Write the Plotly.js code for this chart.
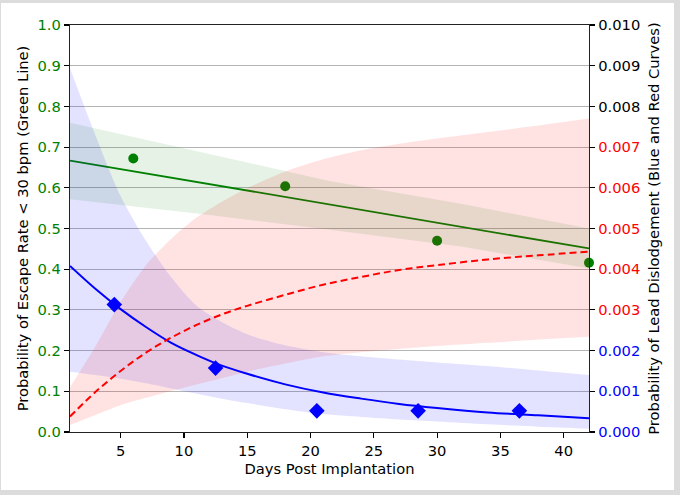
<!DOCTYPE html>
<html>
<head>
<meta charset="utf-8">
<script src="https://cdn.plot.ly/plotly-3.0.1.min.js"></script>
<style>
  html, body { margin: 0; padding: 0; background: #dcdcdc; width: 680px; height: 495px; overflow: hidden; }
  #chart { position: absolute; left: 1px; top: 3px; width: 673px; height: 487px; background: #fff; }
</style>
</head>
<body>
<div id="chart"></div>
<script>
// observed points
const escapeDays = [6, 18, 30, 42];
const escapeRate = [0.672, 0.604, 0.470, 0.416];
const dislodgeDays = [4.5, 12.5, 20.5, 28.5, 36.5];
const dislodgeRate = [0.00313, 0.00157, 0.00052, 0.00052, 0.00052];

// green fit (left axis)
const greenDays = [1, 11, 21.5, 32, 42];
const greenFit = [0.667, 0.614, 0.559, 0.504, 0.451];
const greenUpper = [0.760, 0.690, 0.617, 0.560, 0.500];
const greenLower = [0.572, 0.537, 0.497, 0.455, 0.402];

// blue / red fits (right axis)
const curveDays = [1, 3, 5, 7, 9, 11, 13, 15, 18, 21, 24, 27, 30, 34, 38, 42];
const blueFit = [0.00408, 0.00352, 0.00302, 0.00258, 0.00219, 0.00189, 0.00163, 0.00143,
  0.00117, 0.00097, 0.00082, 0.00069, 0.00059, 0.00048, 0.00041, 0.00034];
const blueUpper = [0.00894, 0.0073, 0.0058, 0.0047, 0.0038, 0.0031, 0.0027, 0.0024,
  0.00213, 0.00196, 0.00186, 0.00178, 0.00171, 0.00162, 0.00151, 0.0014];
const blueLower = [0.00148, 0.00140, 0.00131, 0.00120, 0.00107, 0.00094, 0.00082, 0.00071,
  0.00056, 0.00044, 0.00037, 0.00031, 0.00026, 0.00019, 0.00013, 0.00008];
const redFit = [0.00038, 0.00098, 0.00150, 0.00195, 0.00232, 0.00263, 0.00289, 0.00310,
  0.00337, 0.00362, 0.00381, 0.00398, 0.00410, 0.00424, 0.00434, 0.00443];
const redUpper = [0.0011, 0.0021, 0.0032, 0.0041, 0.00475, 0.00527, 0.00566, 0.00599,
  0.00640, 0.00670, 0.00692, 0.00708, 0.00721, 0.00737, 0.00753, 0.0077];
const redLower = [0.00017, 0.00042, 0.00066, 0.00084, 0.00101, 0.00117, 0.00132, 0.00148,
  0.00168, 0.00186, 0.00196, 0.00204, 0.00211, 0.00219, 0.00227, 0.00234];

// axis ticks
const xTicks = [5, 10, 15, 20, 25, 30, 35, 40];
const leftTicks = [0, 0.1, 0.2, 0.3, 0.4, 0.5, 0.6, 0.7, 0.8, 0.9, 1.0];
const rightTicks = [0, 0.001, 0.002, 0.003, 0.004, 0.005, 0.006, 0.007, 0.008, 0.009, 0.010];
const rightTickColors = ["blue", "blue", "blue", "red", "red", "red", "red", "red", "black", "black", "black"];

const FONT = "DejaVu Sans, Verdana, sans-serif";
const FS = 14.7;

// lower edge (invisible) followed by upper edge filled down to it
function band(xs, upper, lower, color, yaxis, shape) {
  const edge = { width: 0, shape, smoothing: 0.8 };
  return [
    { type: "scatter", mode: "lines", x: xs, y: lower, yaxis, line: edge, hoverinfo: "skip" },
    {
      type: "scatter", mode: "lines", x: xs, y: upper, yaxis, line: edge,
      fill: "tonexty", fillcolor: color, hoverinfo: "skip",
    },
  ];
}

const data = [
  ...band(greenDays, greenUpper, greenLower, "rgba(0,128,0,0.10)", "y", "linear"),
  {
    type: "scatter", mode: "lines", x: greenDays, y: greenFit, yaxis: "y",
    line: { color: "green", width: 1.8 },
  },
  {
    type: "scatter", mode: "markers", x: escapeDays, y: escapeRate, yaxis: "y",
    marker: { color: "green", size: 10, symbol: "circle" },
    cliponaxis: false,
  },
  ...band(curveDays, blueUpper, blueLower, "rgba(0,0,255,0.11)", "y2", "spline"),
  ...band(curveDays, redUpper, redLower, "rgba(255,0,0,0.11)", "y2", "spline"),
  {
    type: "scatter", mode: "lines", x: curveDays, y: blueFit, yaxis: "y2",
    line: { color: "blue", width: 2, shape: "spline", smoothing: 1 },
  },
  {
    type: "scatter", mode: "lines", x: curveDays, y: redFit, yaxis: "y2",
    line: { color: "red", width: 2, dash: "7px,4px", shape: "spline", smoothing: 1 },
  },
  {
    type: "scatter", mode: "markers", x: dislodgeDays, y: dislodgeRate, yaxis: "y2",
    marker: { color: "blue", size: 12, symbol: "diamond" },
  },
];

const layout = {
  width: 673,
  height: 487,
  margin: { l: 69, r: 85, t: 22, b: 58 },
  paper_bgcolor: "#ffffff",
  plot_bgcolor: "#ffffff",
  showlegend: false,
  font: { family: FONT, size: FS, color: "#000" },
  xaxis: {
    range: [1, 42],
    tickvals: xTicks,
    ticks: "outside",
    ticklen: 5,
    tickwidth: 1.2,
    tickcolor: "#000",
    showgrid: false,
    zeroline: false,
    showline: true,
    linecolor: "#222",
    linewidth: 1.3,
    mirror: true,
    title: { text: "Days Post Implantation", standoff: 5, font: { size: FS } },
  },
  yaxis: {
    range: [0, 1],
    tickvals: leftTicks,
    ticktext: leftTicks.map((v) => v.toFixed(1)),
    tickfont: { color: "green", size: FS },
    ticks: "outside",
    ticklen: 5,
    tickwidth: 1.2,
    tickcolor: "#000",
    showgrid: true,
    gridcolor: "#b4b4b4",
    gridwidth: 1,
    zeroline: false,
    showline: true,
    linecolor: "#222",
    linewidth: 1.3,
    title: { text: "Probability of Escape Rate &lt; 30 bpm (Green Line)", standoff: 5, font: { size: FS } },
  },
  yaxis2: {
    range: [0, 0.01],
    overlaying: "y",
    side: "right",
    tickvals: rightTicks,
    ticktext: rightTicks.map((v, i) =>
      `<span style="color:${rightTickColors[i]}">${v.toFixed(3)}</span>`),
    ticks: "outside",
    ticklen: 5,
    tickwidth: 1.2,
    tickcolor: "#000",
    showgrid: false,
    zeroline: false,
    showline: true,
    linecolor: "#222",
    linewidth: 1.3,
    title: { text: "Probability of Lead Dislodgement (Blue and Red Curves)", standoff: 9, font: { size: FS } },
  },
};

Plotly.newPlot("chart", data, layout, { displayModeBar: false, staticPlot: true });
</script>
</body>
</html>
